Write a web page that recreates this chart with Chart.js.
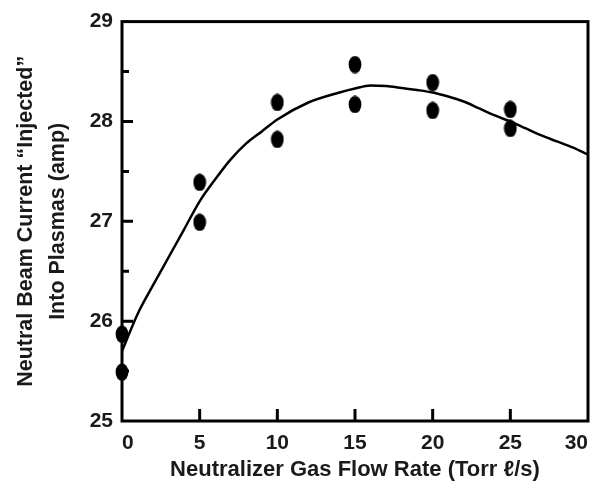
<!DOCTYPE html>
<html>
<head>
<meta charset="utf-8">
<script src="https://cdn.jsdelivr.net/npm/chart.js@4.4.1/dist/chart.umd.min.js"></script>
<style>
  html, body { margin: 0; padding: 0; background: #ffffff; }
  #c { display: block; }
</style>
</head>
<body>
<canvas id="c" width="605" height="494"></canvas>
<script>
// ---- data ----
const pointX = [0, 0, 5, 5, 10, 10, 15, 15, 20, 20, 25, 25];
const pointY = [25.87, 25.49, 27.39, 26.99, 28.19, 27.82, 28.57, 28.17, 28.39, 28.11, 28.12, 27.93];

const curveX = [0, 1, 2, 3, 4, 5, 6, 7, 8, 9, 10, 12, 14, 15, 16, 17, 18, 19, 20, 21, 22, 23, 24, 25, 26, 27, 28, 29, 30];
const curveY = [25.70, 26.07, 26.36, 26.64, 26.92, 27.20, 27.42, 27.62, 27.78, 27.90, 28.02, 28.19, 28.29, 28.33, 28.36, 28.355, 28.335, 28.315, 28.29, 28.25, 28.20, 28.13, 28.06, 28.00, 27.93, 27.86, 27.80, 27.74, 27.67];

const xTicks = [0, 5, 10, 15, 20, 25, 30];
const yTicks = [25, 26, 27, 28, 29];
const yMinorTicks = [25.5, 26.5, 27.5, 28.5];

const xTitle = 'Neutralizer Gas Flow Rate (Torr \u2113/s)';
const yTitle = ['Neutral Beam Current \u201CInjected\u201D', 'Into Plasmas (amp)'];

// ---- elliptical marker ----
function ellipseMarker() {
  const cv = document.createElement('canvas');
  cv.width = 14; cv.height = 18;
  const g = cv.getContext('2d');
  g.fillStyle = '#000';
  g.beginPath();
  g.ellipse(7, 9, 6.4, 8.7, 0, 0, Math.PI * 2);
  g.fill();
  return cv;
}

const FONT = '"Liberation Sans", Arial, Helvetica, sans-serif';
const TEXT = '#1a1a1a';

const frame = {
  id: 'frame',
  beforeDatasetsDraw(chart) {
    const { ctx, chartArea: a, scales: { x, y } } = chart;
    ctx.save();
    ctx.strokeStyle = '#000';
    ctx.lineWidth = 3;
    ctx.lineCap = 'butt';
    ctx.beginPath();
    xTicks.forEach(v => {
      if (v <= x.min || v >= x.max) return;
      const px = x.getPixelForValue(v);
      ctx.moveTo(px, a.bottom);
      ctx.lineTo(px, a.bottom - 12);
    });
    yTicks.forEach(v => {
      if (v <= y.min || v >= y.max) return;
      const py = y.getPixelForValue(v);
      ctx.moveTo(a.left, py);
      ctx.lineTo(a.left + 11, py);
    });
    yMinorTicks.forEach(v => {
      const py = y.getPixelForValue(v);
      ctx.moveTo(a.left, py);
      ctx.lineTo(a.left + 7, py);
    });
    ctx.stroke();
    ctx.lineJoin = 'miter';
    ctx.strokeRect(a.left, a.top, a.right - a.left, a.bottom - a.top);
    ctx.restore();
  }
};

new Chart(document.getElementById('c'), {
  type: 'scatter',
  data: {
    datasets: [
      {
        label: 'fit',
        data: curveX.map((v, i) => ({ x: v, y: curveY[i] })),
        showLine: true,
        borderColor: '#000',
        borderWidth: 2.5,
        pointRadius: 0,
        cubicInterpolationMode: 'monotone',
        fill: false,
        clip: false,
        order: 2
      },
      {
        label: 'measured',
        data: pointX.map((v, i) => ({ x: v, y: pointY[i] })),
        pointStyle: ellipseMarker(),
        pointRadius: 7,
        showLine: false,
        clip: false,
        order: 1
      }
    ]
  },
  options: {
    responsive: false,
    animation: false,
    events: [],
    layout: { padding: { left: 0, top: 20, right: 17, bottom: 0 } },
    plugins: { legend: { display: false }, tooltip: { enabled: false } },
    scales: {
      x: {
        type: 'linear',
        min: 0, max: 30,
        grid: { display: false, drawTicks: false },
        border: { display: false },
        afterBuildTicks: s => { s.ticks = xTicks.map(v => ({ value: v })); },
        afterFit: s => { s.height = 73; },
        ticks: {
          color: TEXT,
          padding: 10,
          maxRotation: 0,
          align: 'inner',
          font: { family: FONT, size: 21, weight: 'bold' }
        },
        title: {
          display: true,
          text: xTitle,
          color: TEXT,
          padding: { top: 0, bottom: 11 },
          font: { family: FONT, size: 22, weight: 'bold', lineHeight: 1.2 }
        }
      },
      y: {
        type: 'linear',
        min: 25, max: 29,
        grid: { display: false, drawTicks: false },
        border: { display: false },
        afterBuildTicks: s => { s.ticks = yTicks.map(v => ({ value: v })); },
        afterFit: s => { s.width = 122; },
        ticks: {
          color: TEXT,
          padding: 9,
          font: { family: FONT, size: 21, weight: 'bold' }
        },
        title: {
          display: true,
          text: yTitle,
          color: TEXT,
          padding: { top: 9.5, bottom: 0 },
          font: { family: FONT, size: 21.5, weight: 'bold', lineHeight: 1.51 }
        }
      }
    }
  },
  plugins: [frame]
});
</script>
</body>
</html>
